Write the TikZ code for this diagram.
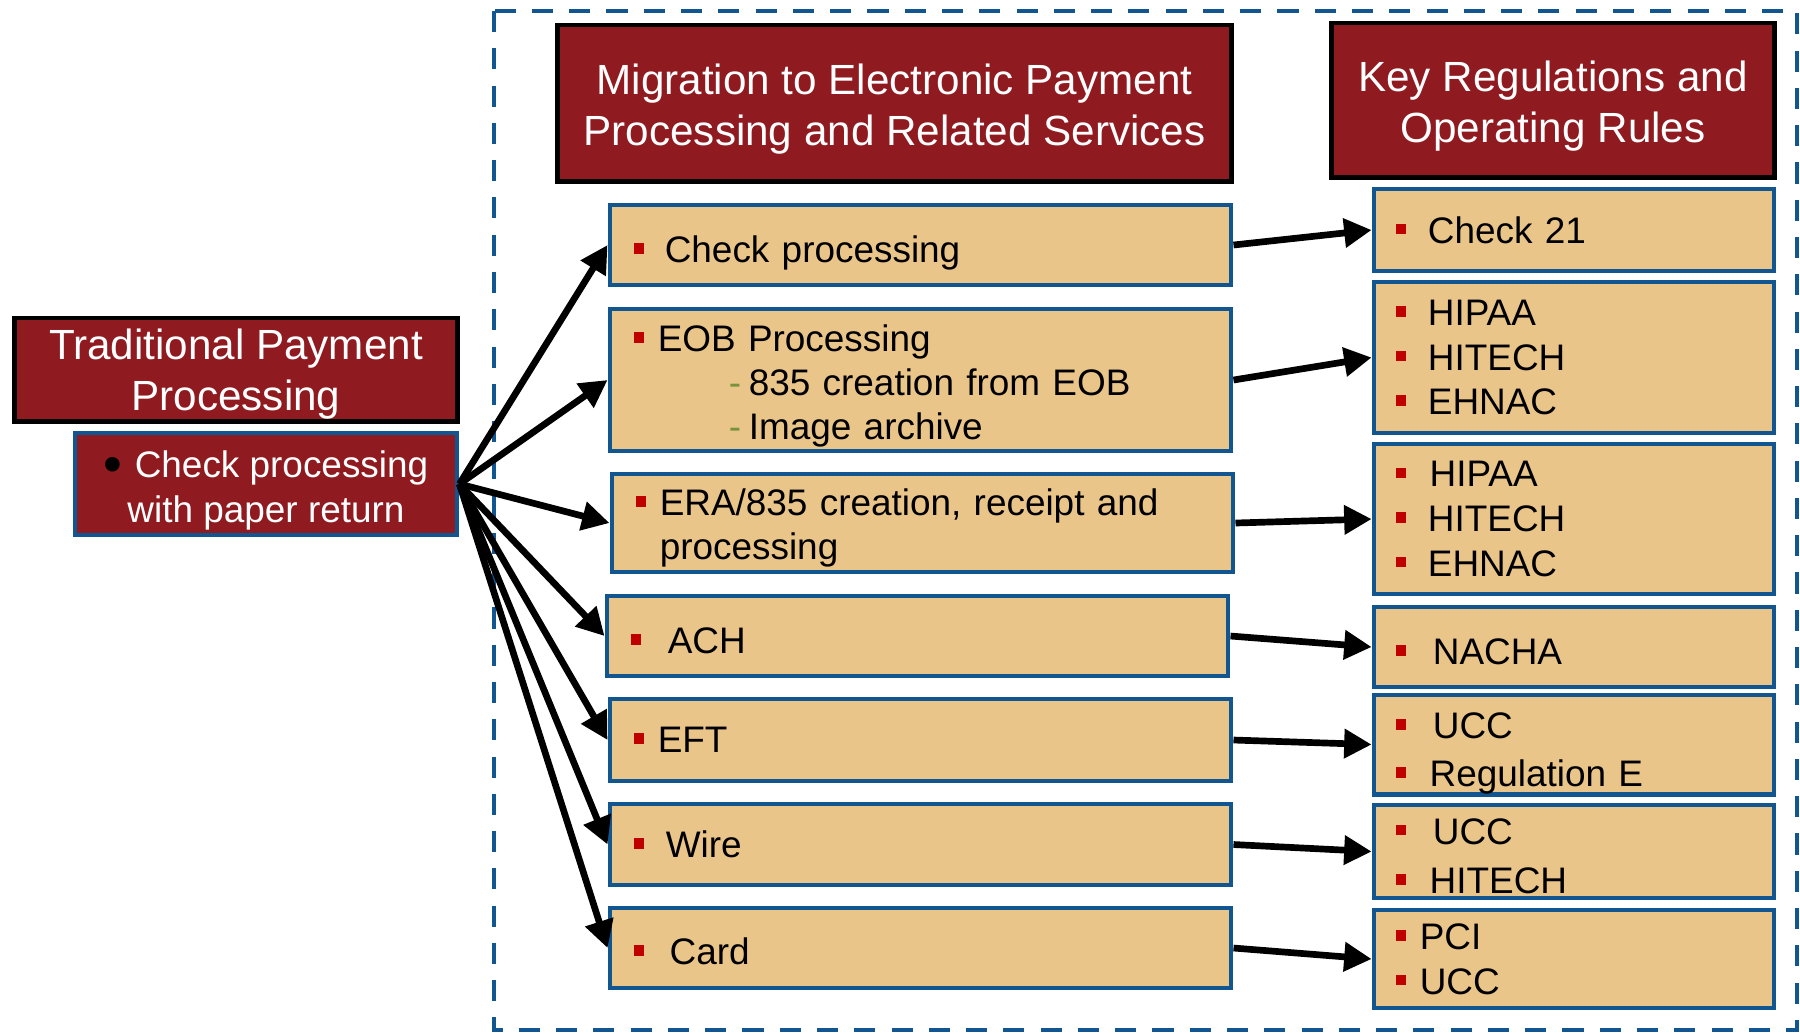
\documentclass[tikz,border=0pt]{standalone}
\usepackage{fontspec}
\setmainfont{Liberation Sans}
\usetikzlibrary{arrows.meta}
\definecolor{hdrred}{RGB}{143,26,31}
\definecolor{boxtan}{RGB}{234,197,138}
\definecolor{boxblue}{RGB}{17,85,145}
\definecolor{bulletred}{RGB}{192,0,0}
\definecolor{dashgreen}{RGB}{119,147,60}
% red square bullet, optional extra gap
\newcommand{\sqb}[1][0pt]{\makebox[6.8pt][l]{\textcolor{bulletred}{\rule[2.5pt]{3pt}{3pt}}}\hspace*{#1}}
\newcommand{\subd}{\hspace*{27pt}\textcolor{dashgreen}{-}\hspace{2.2pt}}
% strut to push the first line down
\newcommand{\tstrut}[1]{\rule{0pt}{#1}}
\begin{document}
\begin{tikzpicture}[x=0.01cm,y=-0.01cm,
hdr/.style ={rectangle, draw=black, line width=1.4pt, fill=hdrred,
  text=white, align=center, inner sep=0pt,
  font=\fontsize{12}{14.4}\selectfont
},
srcbox/.style ={rectangle, draw=boxblue, line width=1.3pt, fill=hdrred,
  text=white, align=center, inner sep=0pt,
  font=\fontsize{10.5}{12.8}\selectfont
},
mid/.style ={rectangle, draw=boxblue, line width=1.3pt, fill=boxtan,
  align=left, inner xsep=0.24cm, inner ysep=0pt,
  text width=5.73cm, minimum width=6.21cm,
  font=\fontsize{10.5}{12.5}\selectfont
},
reg/.style ={rectangle, draw=boxblue, line width=1.3pt, fill=boxtan,
  align=left, inner xsep=0.22cm, inner ysep=0pt,
  text width=3.56cm, minimum width=4cm,
  font=\fontsize{10.5}{12.7}\selectfont
},
arr/.style ={-{Triangle[length=7.8pt,width=8pt]}, line width=1.9pt}]
\useasboundingbox (0,0) rectangle (1800,1032);
\draw[boxblue, line width=1.25pt, dash pattern=on 6pt off 4.6pt] (494,11) rectangle (1797,1030);
% headers
\node (trad) at (236,369.5) [hdr, minimum width=4.42cm, minimum height=1.03cm] {\tstrut{11.4pt}Traditional Payment\\Processing};
\node (src) at (266,484) [srcbox, minimum width=3.82cm, minimum height=1.02cm] {\tstrut{11.5pt}\textcolor{black}{\raisebox{-1.2pt}{\scalebox{1.45}{•}}}\hspace{3.5pt}Check processing\\with paper return};
\node (mig) at (894.5,103) [hdr, minimum width=6.73cm, minimum height=1.56cm] {\tstrut{12pt}Migration to Electronic Payment\\Processing and Related Services};
\node (key) at (1553,100) [hdr, minimum width=4.42cm, minimum height=1.54cm] {\tstrut{12pt}Key Regulations and\\Operating Rules};
% electronic services
\node (mchk) at (920.5,245) [mid, minimum height=0.8cm] {\tstrut{12.2pt}\sqb[2pt]Check processing};
\node (meob) at (920.5,380) [mid, minimum height=1.42cm] {\tstrut{11pt}\sqb EOB Processing\\\subd 835 creation from EOB\\\subd Image archive};
\node (mera) at (922.5,523) [mid, minimum height=0.98cm] {\tstrut{10.5pt}\sqb ERA/835 creation, receipt and\\\hspace*{6.8pt}processing};
\node (mach) at (917.5,636) [mid, minimum height=0.8cm] {\tstrut{10.2pt}\sqb[3.7pt]ACH};
\node (meft) at (920.5,740) [mid, minimum height=0.82cm] {\sqb EFT};
\node (mwire) at (920.5,844.5) [mid, minimum height=0.81cm] {\sqb[2.3pt]Wire};
\node (mcard) at (920.5,948) [mid, minimum height=0.8cm] {\tstrut{9.6pt}\sqb[3.4pt]Card};
% regulations
\node (rchk) at (1574,230) [reg, minimum height=0.82cm] {\sqb[2.3pt]Check 21};
\node (rhip) at (1574,357.5) [reg, minimum height=1.51cm] {\sqb[2.3pt]HIPAA\\\sqb[2.3pt]HITECH\\\sqb[2.3pt]EHNAC};
\node (rhip2) at (1574,519) [reg, minimum height=1.5cm] {\sqb[2.8pt]HIPAA\\\sqb[2.3pt]HITECH\\\sqb[2.3pt]EHNAC};
\node (rnacha) at (1574,647) [reg, minimum height=0.8cm] {\tstrut{10.2pt}\sqb[3.7pt]NACHA};
\node (rucc) at (1574,744.5) [reg, minimum height=0.95cm] {\tstrut{12.4pt}\sqb[3.7pt]UCC\\[1pt]\sqb[2.8pt]Regulation E};
\node (rucc2) at (1574,851.5) [reg, minimum height=0.93cm] {\tstrut{9.9pt}\sqb[3.7pt]UCC\\[1.3pt]\sqb[2.8pt]HITECH};
\node (rpci) at (1574,959) [reg, minimum height=0.98cm] {\sqb PCI\\\sqb UCC};
% connectors
\foreach \m/\r in {mchk/rchk, meob/rhip, mera/rhip2, mach/rnacha, meft/rucc, mwire/rucc2, mcard/rpci} {
  \draw[arr] (src.east) -- (\m.west);
  \draw[arr] (\m.east) -- (\r.west);
}
\end{tikzpicture}
\end{document}
